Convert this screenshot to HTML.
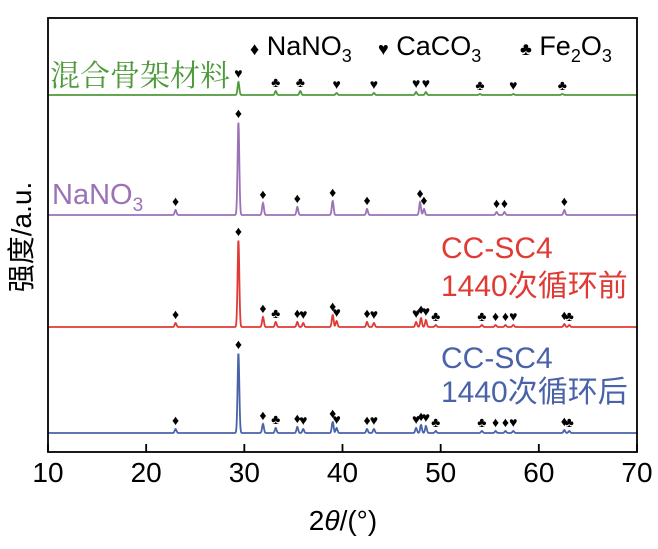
<!DOCTYPE html>
<html><head><meta charset="utf-8"><style>
body{margin:0;background:#fff;}
svg{display:block;font-family:"Liberation Sans","Noto Sans CJK SC",sans-serif;}
</style></head><body>
<svg id="chart" width="658" height="549">
<g id="plot"></g>
<rect x="48" y="18" width="589" height="434" fill="none" stroke="#000" stroke-width="1.8"/>
<g id="xaxis"></g>
<text x="343" y="530" font-size="28" text-anchor="middle">2<tspan font-style="italic">θ</tspan>/(°)</text>
<text transform="translate(31,237) rotate(-90)" font-size="28" text-anchor="middle">强度/a.u.</text>
<g font-size="27">
<text x="250" y="55"><tspan font-size="18">♦</tspan> NaNO<tspan font-size="18" dy="7">3</tspan></text>
<text x="378" y="55"><tspan font-size="18">♥</tspan> CaCO<tspan font-size="18" dy="7">3</tspan></text>
<text x="520" y="55"><tspan font-size="18">♣</tspan> Fe<tspan font-size="18" dy="7">2</tspan><tspan dy="-7">O</tspan><tspan font-size="18" dy="7">3</tspan></text>
</g>
<text x="50" y="86" font-size="30" fill="#4e9a3c" font-family="'Noto Serif CJK SC',serif">混合骨架材料</text>
<text x="52" y="204" font-size="29" fill="#9a72b6">NaNO<tspan font-size="19" dy="7">3</tspan></text>
<text x="441" y="258" font-size="30" fill="#e03a35">CC-SC4</text>
<text x="441" y="296" font-size="30" fill="#e03a35">1440次循环前</text>
<text x="441" y="368" font-size="30" fill="#4a62a8">CC-SC4</text>
<text x="441" y="402" font-size="30" fill="#4a62a8">1440次循环后</text>
</svg>
<script>
const xTicks=[10,20,30,40,50,60,70];
const greenPos=[29.4,33.2,35.7,39.4,43.2,47.5,48.5,54.0,57.4,62.4];
const greenH=[13,4,4,2,2,3,3,1,1,1];
const greenSym=["♥","♣","♣","♥","♥","♥","♥","♣","♥","♣"];
const purplePos=[23.0,29.4,31.9,35.4,39.0,42.5,47.9,48.3,55.7,56.5,62.6];
const purpleH=[5,93,12,8,14,6,13,6,3,3,5];
const purpleSym=["♦","♦","♦","♦","♦","♦","♦","♦","♦","♦","♦"];
const redPos=[23.0,29.4,31.9,33.2,35.4,36.0,39.0,39.4,42.5,43.2,47.5,48.0,48.5,49.5,54.2,55.6,56.6,57.4,62.6,63.1];
const redH=[4,87,10,5,5,4,12,6,5,4,5,9,7,2,2,2,2,2,3,2];
const redSym=["♦","♦","♦","♣","♦","♥","♦","♥","♦","♥","♥","♦","♥","♣","♣","♦","♦","♥","♦","♣"];
const bluePos=[23.0,29.4,31.9,33.2,35.4,36.0,39.0,39.4,42.5,43.2,47.5,48.0,48.5,49.5,54.2,55.6,56.6,57.4,62.6,63.1];
const blueH=[4,80,9,5,6,4,11,5,4,4,5,8,7,2,2,2,2,2,3,2];
const blueSym=["♦","♦","♦","♣","♦","♥","♦","♥","♦","♥","♥","♦","♥","♣","♣","♦","♦","♥","♦","♣"];

const X0=48,X1=637;
function xs(v){return X0+(v-10)/60*(X1-X0);}
const NS="http://www.w3.org/2000/svg";
const plot=document.getElementById('plot'),xa=document.getElementById('xaxis');
xTicks.forEach(t=>{
 const l=document.createElementNS(NS,'line');
 l.setAttribute('x1',xs(t));l.setAttribute('x2',xs(t));l.setAttribute('y1',452);l.setAttribute('y2',444);
 l.setAttribute('stroke','#000');l.setAttribute('stroke-width','1.8');
 
 
 xa.appendChild(l);
 const tx=document.createElementNS(NS,'text');
 tx.setAttribute('x',xs(t));tx.setAttribute('y',482);tx.setAttribute('font-size','28');tx.setAttribute('text-anchor','middle');
 tx.textContent=t;
 
 
 xa.appendChild(tx);
});
function curve(pos,h,x){let s=0;for(let i=0;i<pos.length;i++){const d=(x-pos[i])/0.09;s+=h[i]*Math.exp(-d*d/2);}return s;}
function series(name,pos,h,sym,base,color){
 let d='';
 for(let x=10;x<=70.001;x+=0.03){d+=(d?'L':'M')+xs(x).toFixed(1)+','+(base-curve(pos,h,x)).toFixed(1);}
 const p=document.createElementNS(NS,'path');
 p.setAttribute('d',d);p.setAttribute('fill','none');p.setAttribute('stroke',color);p.setAttribute('stroke-width','1.8');
 
 
 plot.appendChild(p);
 pos.forEach((v,i)=>{
  const t=document.createElementNS(NS,'text');
  t.setAttribute('x',xs(v));t.setAttribute('y',base-curve(pos,h,v)-4);
  t.setAttribute('font-size','14');t.setAttribute('text-anchor','middle');
  t.textContent=sym[i];
  
  
  plot.appendChild(t);
 });
}
series('mixed',greenPos,greenH,greenSym,95,'#4e9a3c');
series('nano3',purplePos,purpleH,purpleSym,215,'#9a72b6');
series('before',redPos,redH,redSym,327,'#e03a35');
series('after',bluePos,blueH,blueSym,433,'#4a62a8');
</script>
</body></html>
